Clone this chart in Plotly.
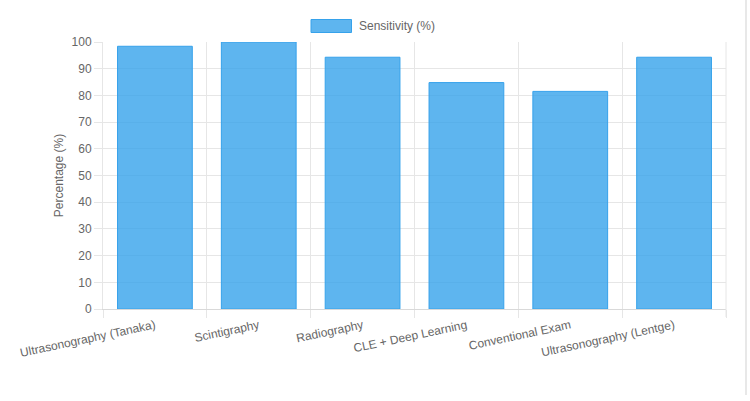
import plotly.graph_objects as go

categories = ["Ultrasonography (Tanaka)", "Scintigraphy", "Radiography",
              "CLE + Deep Learning", "Conventional Exam", "Ultrasonography (Lentge)"]
sensitivity = [98.4, 100, 94.3, 84.8, 81.5, 94.3]
series_name = "Sensitivity (%)"
y_title = "Percentage (%)"

W, H = 750, 401
ml, mr, mt, mb = 103, 24, 42, 92
pw = W - ml - mr
ph = H - mt - mb

def px_x(p):
    return (p - ml) / pw

def px_y(p):
    return (H - mb - p) / ph

font = "Liberation Sans, Arial, Helvetica, sans-serif"
grid = "#e6e6e6"

fig = go.Figure()
fig.add_trace(go.Bar(
    x=categories, y=sensitivity, name=series_name,
    marker=dict(color="rgba(54,162,235,0.8)", line=dict(color="rgb(54,162,235)", width=1)),
    showlegend=False, hoverinfo="x+y",
))

fig.update_layout(
    width=W, height=H,
    margin=dict(l=ml, r=mr, t=mt, b=mb),
    plot_bgcolor="white", paper_bgcolor="white",
    bargap=0.28,
    font=dict(family=font, size=12, color="#666"),
    xaxis=dict(
        type="category", tickson="boundaries", showgrid=True, gridcolor=grid, gridwidth=1,
        ticks="outside", ticklen=8, tickcolor=grid, tickangle=-12, ticklabelstandoff=4,
        showline=True, linecolor="#d9d9d9", mirror=False,
        tickfont=dict(size=12, color="#666"), automargin=False,
    ),
    yaxis=dict(
        range=[0, 100], dtick=10, showgrid=True, gridcolor=grid, gridwidth=1,
        ticks="outside", ticklen=8, tickcolor=grid, zeroline=False,
        showline=True, linecolor=grid,
        tickfont=dict(size=12, color="#666"),
        title=dict(text=y_title, font=dict(size=12, color="#666"), standoff=5),
        automargin=False,
    ),
    shapes=[
        dict(type="rect", xref="paper", yref="paper",
             x0=px_x(311), x1=px_x(351.5), y0=px_y(32.5), y1=px_y(19.5),
             fillcolor="rgba(54,162,235,0.8)", line=dict(color="rgb(54,162,235)", width=1)),
        dict(type="line", xref="paper", yref="paper",
             x0=px_x(746), x1=px_x(746), y0=px_y(0), y1=px_y(395),
             line=dict(color="#e8e8e8", width=2)),
        dict(type="line", xref="paper", yref="paper",
             x0=px_x(726), x1=px_x(726), y0=px_y(42), y1=px_y(317),
             line=dict(color=grid, width=1)),
    ],
    annotations=[
        dict(text=series_name, xref="paper", yref="paper",
             x=px_x(357), y=px_y(26), xanchor="left", yanchor="middle",
             showarrow=False, font=dict(size=12, color="#666")),
    ],
)

fig.write_html("out.html")
